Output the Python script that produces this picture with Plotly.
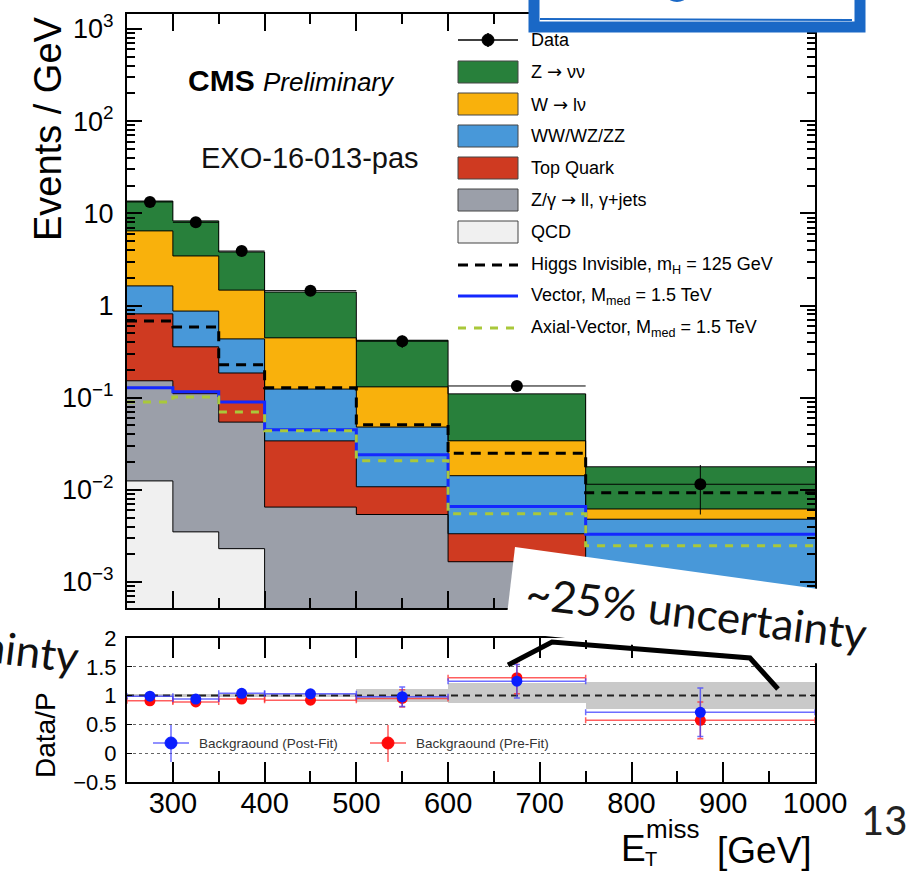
import numpy as np
import plotly.graph_objects as go

W, H = 913, 871

# ---------------- data ----------------
bin_edges = [250, 300, 350, 400, 500, 600, 750, 1000]

qcd       = [0.0125, 0.0035, 0.0023, 0.0, 0.0, 0.0, 0.0]
zll_gjets = [0.140, 0.107, 0.052, 0.0065, 0.0054, 0.00166, 0.0003]
top_quark = [0.66, 0.246, 0.131, 0.0275, 0.0054, 0.00168, 0.0004]
diboson   = [0.82, 0.514, 0.249, 0.090, 0.0372, 0.0109, 0.0041]
w_lnu     = [4.82, 2.58, 1.035, 0.322, 0.083, 0.0198, 0.0014]
z_nunu    = [7.15, 4.83, 2.34, 0.954, 0.289, 0.076, 0.0116]

data_vals    = [13.3, 8.0, 3.9, 1.45, 0.41, 0.134, 0.0115]
data_err_up  = [0.52, 0.40, 0.28, 0.12, 0.064, 0.015, 0.0071]
data_err_dn  = [0.52, 0.40, 0.28, 0.12, 0.064, 0.015, 0.0061]

higgs_inv  = [0.68, 0.586, 0.227, 0.128, 0.0507, 0.025, 0.0093]
vector_med = [0.128, 0.116, 0.090, 0.0448, 0.024, 0.0066, 0.0033]
axial_med  = [0.090, 0.102, 0.070, 0.0437, 0.0207, 0.0055, 0.00247]

ratio_post     = [0.99, 0.94, 1.04, 1.03, 0.98, 1.25, 0.71]
ratio_post_err = [0.04, 0.04, 0.05, 0.05, 0.17, 0.29, 0.42]
ratio_pre      = [0.91, 0.89, 0.94, 0.92, 0.95, 1.31, 0.57]
ratio_pre_err  = [0.04, 0.04, 0.05, 0.05, 0.15, 0.28, 0.32]
band_up        = [0.03, 0.03, 0.03, 0.03, 0.11, 0.22, 0.24]
band_dn        = [0.03, 0.03, 0.03, 0.03, 0.11, 0.13, 0.23]

x_ticks = [300, 400, 500, 600, 700, 800, 900, 1000]
y_tickvals = [1e-3, 1e-2, 1e-1, 1, 10, 1e2, 1e3]
y_ticktext = ["10<sup>−3</sup>", "10<sup>−2</sup>", "10<sup>−1</sup>", "1", "10",
              "10<sup>2</sup>", "10<sup>3</sup>"]
r_tickvals = [-0.5, 0, 0.5, 1, 1.5, 2]
r_ticktext = ["−0.5", "0", "0.5", "1", "1.5", "2"]

# ---------------- helpers ----------------
FONT = "Liberation Sans, Arial, Helvetica, sans-serif"
SLIDE = "Lato, Open Sans, sans-serif"
def px(x): return x / W
def py(y): return 1 - y / H

ARROW = "<span style='font-family:DejaVu Sans'>→</span>"

edges = np.array(bin_edges, dtype=float)
centers = (edges[:-1] + edges[1:]) / 2
widths = edges[1:] - edges[:-1]
half = widths / 2

stack = [
    ("QCD", qcd, "#f0f0f0"),
    (f"Z/γ {ARROW} ll, γ+jets", zll_gjets, "#9b9fa9"),
    ("Top Quark", top_quark, "#cf3a21"),
    ("WW/WZ/ZZ", diboson, "#4898d9"),
    (f"W {ARROW} lν", w_lnu, "#f9b10c"),
    (f"Z {ARROW} νν", z_nunu, "#28803b"),
]
cum = np.cumsum([np.array(s[1]) for s in stack], axis=0)
FLOOR = 1e-7

fig = go.Figure()

# stacked fills (largest first)
for i in reversed(range(len(stack))):
    vals = [v if v > 0 else None for v in cum[i]]
    fig.add_trace(go.Bar(x=centers, y=vals, width=widths,
                         marker=dict(color=stack[i][2], line=dict(width=0)),
                         xaxis="x", yaxis="y", showlegend=False, hoverinfo="skip"))
# outlines
for i in range(len(stack)):
    vals = [v if v > 0 else FLOOR for v in cum[i]]
    fig.add_trace(go.Scatter(x=edges, y=list(vals) + [vals[-1]], mode="lines",
                             line=dict(color="black", width=1, shape="hv"),
                             xaxis="x", yaxis="y", showlegend=False, hoverinfo="skip"))

def step(v):
    return list(v) + [v[-1]]

fig.add_trace(go.Scatter(x=edges, y=step(higgs_inv), mode="lines",
                         line=dict(color="black", width=3, shape="hv", dash="10px,7px"),
                         xaxis="x", yaxis="y", showlegend=False))
fig.add_trace(go.Scatter(x=edges, y=step(vector_med), mode="lines",
                         line=dict(color="#1428ff", width=3, shape="hv"),
                         xaxis="x", yaxis="y", showlegend=False))
fig.add_trace(go.Scatter(x=edges, y=step(axial_med), mode="lines",
                         line=dict(color="#a9c83a", width=3, shape="hv", dash="8px,8px"),
                         xaxis="x", yaxis="y", showlegend=False))

fig.add_trace(go.Scatter(x=centers, y=data_vals, mode="markers",
                         marker=dict(color="black", size=12),
                         error_x=dict(type="data", array=half, color="black", thickness=1, width=0),
                         error_y=dict(type="data", array=data_err_up, arrayminus=data_err_dn,
                                      color="black", thickness=1, width=0),
                         xaxis="x", yaxis="y", showlegend=False))

# ---------------- ratio panel ----------------
fig.add_trace(go.Bar(x=centers, y=np.array(band_up) + np.array(band_dn),
                     base=1 - np.array(band_dn), width=widths,
                     marker=dict(color="#c9c9c9", line=dict(width=0)),
                     xaxis="x2", yaxis="y2", showlegend=False, hoverinfo="skip"))
fig.add_trace(go.Scatter(x=[bin_edges[0], bin_edges[-1]], y=[1, 1], mode="lines",
                         line=dict(color="#222", width=2, dash="7px,5px"),
                         xaxis="x2", yaxis="y2", showlegend=False))
fig.add_trace(go.Scatter(x=centers, y=ratio_pre, mode="markers",
                         marker=dict(color="#ff0a0a", size=11),
                         error_x=dict(type="data", array=half, color="rgba(255,40,40,0.75)",
                                      thickness=1.5, width=3),
                         error_y=dict(type="data", array=ratio_pre_err, color="rgba(255,40,40,0.75)",
                                      thickness=1.5, width=3),
                         xaxis="x2", yaxis="y2", showlegend=False))
fig.add_trace(go.Scatter(x=centers, y=ratio_post, mode="markers",
                         marker=dict(color="#0a1eff", size=11),
                         error_x=dict(type="data", array=half, color="rgba(60,60,255,0.75)",
                                      thickness=1.5, width=3),
                         error_y=dict(type="data", array=ratio_post_err, color="rgba(60,60,255,0.75)",
                                      thickness=1.5, width=3),
                         xaxis="x2", yaxis="y2", showlegend=False))

# ---------------- axes ----------------
xdom = [px(127), px(815)]
minor_log = [m * 10.0 ** e for e in range(-4, 4) for m in range(2, 10)]

axis_common = dict(showline=True, linecolor="black", linewidth=2, mirror="allticks",
                   ticks="inside", tickcolor="black", tickwidth=1.5, zeroline=False,
                   showgrid=False, automargin=False)

layout_axes = dict(
    xaxis=dict(domain=xdom, range=[250, 1000], anchor="y", tickvals=x_ticks,
               showticklabels=False, ticklen=17,
               minor=dict(dtick=50, tick0=250, ticks="inside", ticklen=10, tickcolor="black"),
               **axis_common),
    yaxis=dict(domain=[py(608), py(14)], type="log", range=[-3.282, 3.163], anchor="x",
               tickvals=y_tickvals, ticktext=y_ticktext, ticklen=15,
               tickfont=dict(family=FONT, size=27, color="black"), ticklabelstandoff=6,
               minor=dict(tickvals=minor_log, ticks="inside", ticklen=8, tickcolor="black"),
               **axis_common),
    xaxis2=dict(domain=xdom, range=[250, 1000], anchor="y2", tickvals=x_ticks,
                ticktext=[str(t) for t in x_ticks], ticklen=20,
                tickfont=dict(family=FONT, size=29, color="black"), ticklabelstandoff=-6,
                minor=dict(dtick=50, tick0=250, ticks="inside", ticklen=11, tickcolor="black"),
                **axis_common),
    yaxis2=dict(domain=[py(782), py(638)], range=[-0.5, 2], anchor="x2",
                tickvals=r_tickvals, ticktext=r_ticktext, ticklen=5,
                tickfont=dict(family=FONT, size=22, color="black"), ticklabelstandoff=4,
                showline=True, linecolor="black", linewidth=2, mirror="allticks",
                ticks="inside", tickcolor="black", zeroline=False, automargin=False,
                showgrid=True, gridcolor="#666", gridwidth=1, griddash="dot"),
)

shapes = []
annotations = []

# ---------------- legend (main) ----------------
row_y = [232, 200, 168, 136, 104, 72]   # legend rows for the stack entries (QCD ... Z)
LX0, LX1 = 458, 518
LFS = 18
shapes.append(dict(type="line", xref="paper", yref="paper", x0=px(LX0), x1=px(LX1),
                   y0=py(40), y1=py(40), line=dict(color="black", width=1.5)))
shapes.append(dict(type="line", xref="paper", yref="paper", x0=px(488), x1=px(488),
                   y0=py(33), y1=py(47), line=dict(color="black", width=1.5)))
shapes.append(dict(type="circle", xref="paper", yref="paper", x0=px(482), x1=px(494),
                   y0=py(46), y1=py(34), fillcolor="black", line=dict(color="black", width=1)))
annotations.append(dict(text="Data", x=px(529), y=py(40), xref="paper", yref="paper",
                        xanchor="left", yanchor="middle", showarrow=False,
                        font=dict(family=FONT, size=LFS, color="black")))
for (name, series, color), r in zip(stack, row_y):
    shapes.append(dict(type="rect", xref="paper", yref="paper", x0=px(LX0), x1=px(LX1),
                       y0=py(r + 11), y1=py(r - 11), fillcolor=color,
                       line=dict(color="#444", width=1)))
    annotations.append(dict(text=name, x=px(529), y=py(r), xref="paper", yref="paper",
                            xanchor="left", yanchor="middle", showarrow=False,
                            font=dict(family=FONT, size=LFS, color="black")))
line_items = [
    ("Higgs Invisible, m<sub>H</sub> = 125 GeV", 265, "black", "10px,7px"),
    ("Vector, M<sub>med</sub> = 1.5 TeV", 296, "#1428ff", "solid"),
    ("Axial-Vector, M<sub>med</sub> = 1.5 TeV", 328, "#a9c83a", "8px,8px"),
]
for text, r, color, dash in line_items:
    shapes.append(dict(type="line", xref="paper", yref="paper", x0=px(LX0), x1=px(LX1),
                       y0=py(r), y1=py(r), line=dict(color=color, width=3, dash=dash)))
    annotations.append(dict(text=text, x=px(529), y=py(r), xref="paper", yref="paper",
                            xanchor="left", yanchor="middle", showarrow=False,
                            font=dict(family=FONT, size=LFS, color="black")))

# ---------------- ratio legend ----------------
for cx, color, lc, text in [(171, "#0a1eff", "rgba(60,60,255,0.75)", "Backgraound (Post-Fit)"),
                             (388, "#ff0a0a", "rgba(255,40,40,0.75)", "Backgraound (Pre-Fit)")]:
    shapes.append(dict(type="line", xref="paper", yref="paper", x0=px(cx - 18), x1=px(cx + 18),
                       y0=py(743), y1=py(743), line=dict(color=lc, width=1.5)))
    shapes.append(dict(type="line", xref="paper", yref="paper", x0=px(cx), x1=px(cx),
                       y0=py(725), y1=py(762), line=dict(color=lc, width=1.5)))
    shapes.append(dict(type="circle", xref="paper", yref="paper", x0=px(cx - 6), x1=px(cx + 6),
                       y0=py(749), y1=py(737), fillcolor=color, line=dict(color=color, width=1)))
    annotations.append(dict(text=text, x=px(cx + 26), y=py(743), xref="paper", yref="paper",
                            xanchor="left", yanchor="middle", showarrow=False,
                            font=dict(family=FONT, size=13.5, color="#333")))

# ---------------- texts ----------------
annotations += [
    dict(text="<b>CMS</b>", x=px(186), y=py(81), xanchor="left", yanchor="middle",
         font=dict(family=FONT, size=30, color="black")),
    dict(text="<i>Preliminary</i>", x=px(261), y=py(82), xanchor="left", yanchor="middle",
         font=dict(family=FONT, size=26, color="black")),
    dict(text="EXO-16-013-pas", x=px(199), y=py(158), xanchor="left", yanchor="middle",
         font=dict(family=FONT, size=29, color="#111")),
    dict(text="Events / GeV", x=px(48), y=py(129), textangle=-90, xanchor="center", yanchor="middle",
         font=dict(family=FONT, size=38, color="black")),
    dict(text="Data/P", x=px(45), y=py(735), textangle=-90, xanchor="center", yanchor="middle",
         font=dict(family=FONT, size=28, color="black")),
    dict(text="E", x=px(633), y=py(848), xanchor="center", yanchor="middle",
         font=dict(family=FONT, size=37, color="black")),
    dict(text="miss", x=px(672), y=py(829), xanchor="center", yanchor="middle",
         font=dict(family=FONT, size=26, color="black")),
    dict(text="T", x=px(651), y=py(859), xanchor="center", yanchor="middle",
         font=dict(family=FONT, size=20, color="black")),
    dict(text="[GeV]", x=px(764), y=py(850), xanchor="center", yanchor="middle",
         font=dict(family=FONT, size=37, color="black")),
    dict(text="13", x=px(884), y=py(820), xanchor="center", yanchor="middle",
         font=dict(family=SLIDE, size=40, color="#222")),
    dict(text="~25% uncertainty", x=px(696), y=py(612), textangle=7, xanchor="center",
         yanchor="middle", font=dict(family=SLIDE, size=44, color="#111")),
    dict(text="~25% uncertainty", x=px(-92), y=py(635), textangle=7, xanchor="center",
         yanchor="middle", font=dict(family=SLIDE, size=44, color="#111")),
]
for a in annotations:
    a.setdefault("xref", "paper")
    a.setdefault("yref", "paper")
    a.setdefault("showarrow", False)

# ---------------- slide overlays ----------------
def path(pts, close=True):
    s = "M " + " L ".join(f"{px(x)},{py(y)}" for x, y in pts)
    return s + (" Z" if close else "")

shapes.append(dict(type="path", xref="paper", yref="paper", layer="above",
                   path=path([(515, 547), (913, 602), (913, 673), (505, 632)]),
                   fillcolor="white", line=dict(width=0)))
shapes.append(dict(type="path", xref="paper", yref="paper", layer="above",
                   path=path([(508, 665), (552, 642), (750, 658), (778, 689)], close=False),
                   line=dict(color="black", width=5)))
# blue hand-drawn box at top
shapes.append(dict(type="rect", xref="paper", yref="paper", layer="above",
                   x0=px(534), x1=px(860), y0=py(27), y1=py(-30), fillcolor="white",
                   line=dict(color="#1a68c6", width=11)))
shapes.append(dict(type="line", xref="paper", yref="paper", layer="above",
                   x0=px(540), x1=px(852), y0=py(19), y1=py(20),
                   line=dict(color="#1a68c6", width=2)))
shapes.append(dict(type="circle", xref="paper", yref="paper", layer="above",
                   x0=px(668), x1=px(686), y0=py(2), y1=py(-8), fillcolor="#1a68c6",
                   line=dict(width=0)))

fig.update_layout(
    width=W, height=H, margin=dict(l=0, r=0, t=0, b=0, autoexpand=False),
    paper_bgcolor="white", plot_bgcolor="white", barmode="overlay", bargap=0,
    showlegend=False, shapes=shapes, annotations=annotations,
    font=dict(family=FONT),
    **layout_axes,
)

fig.write_html("out.html")
